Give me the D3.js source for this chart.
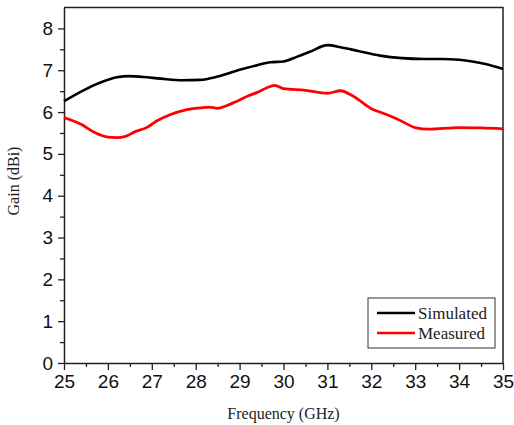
<!DOCTYPE html>
<html>
<head>
<meta charset="utf-8">
<script src="https://cdn.jsdelivr.net/npm/d3@7"></script>
<style>
  body { margin: 0; background: #fff; }
  svg { display: block; }
</style>
</head>
<body>
<script>
const freqSim  = [25.0, 25.5, 26.0, 26.2, 26.5, 26.8, 27.2, 27.7, 28.1, 28.5, 29.0, 29.4, 29.7, 30.0, 30.3, 30.6, 31.0, 31.3, 31.7, 32.2, 32.7, 33.2, 33.6, 34.0, 34.3, 34.6, 35.0];
const gainSim  = [6.26, 6.55, 6.77, 6.83, 6.86, 6.84, 6.80, 6.76, 6.77, 6.85, 7.01, 7.12, 7.19, 7.21, 7.32, 7.44, 7.60, 7.55, 7.46, 7.35, 7.29, 7.27, 7.27, 7.25, 7.21, 7.15, 7.03];
const freqMeas = [25.0, 25.4, 25.7, 26.0, 26.2, 26.4, 26.6, 26.9, 27.1, 27.4, 27.8, 28.1, 28.3, 28.5, 28.7, 28.9, 29.2, 29.4, 29.6, 29.8, 30.0, 30.5, 31.0, 31.3, 31.6, 32.0, 32.3, 32.6, 33.0, 33.3, 34.0, 34.5, 35.0];
const gainMeas = [5.87, 5.70, 5.51, 5.40, 5.39, 5.42, 5.52, 5.64, 5.78, 5.93, 6.06, 6.10, 6.12, 6.09, 6.15, 6.24, 6.39, 6.47, 6.57, 6.64, 6.56, 6.52, 6.45, 6.51, 6.37, 6.08, 5.96, 5.83, 5.63, 5.59, 5.63, 5.62, 5.60];

const xTicks = [25, 26, 27, 28, 29, 30, 31, 32, 33, 34, 35];
const yTicks = [0, 1, 2, 3, 4, 5, 6, 7, 8];
const seriesNames = ["Simulated", "Measured"];
const seriesColors = ["#000000", "#ff0000"];

const width = 514;
const height = 425;
const margin = { top: 7.5, right: 11, bottom: 62, left: 64 };

const svg = d3.select("body").append("svg")
  .attr("width", width)
  .attr("height", height);

const x = d3.scaleLinear().domain([25, 35]).range([margin.left, width - margin.right]);
const y = d3.scaleLinear().domain([0, 8.5]).range([height - margin.bottom, margin.top]);

// minor ticks first
const xMinor = d3.range(25.5, 35, 1);
const yMinor = d3.range(0.5, 8.5, 1);

svg.append("g")
  .attr("transform", `translate(0, ${height - margin.bottom})`)
  .call(d3.axisBottom(x).tickValues(xMinor).tickSize(4).tickFormat(""))
  .call(g => g.select(".domain").remove())
  .call(g => g.selectAll("line").attr("stroke", "#222").attr("stroke-width", 1.3));

svg.append("g")
  .attr("transform", `translate(${margin.left}, 0)`)
  .call(d3.axisLeft(y).tickValues(yMinor).tickSize(4).tickFormat(""))
  .call(g => g.select(".domain").remove())
  .call(g => g.selectAll("line").attr("stroke", "#222").attr("stroke-width", 1.3));

// major axes
svg.append("g")
  .attr("id", "x-axis")
  .attr("transform", `translate(0, ${height - margin.bottom})`)
  .call(d3.axisBottom(x).tickValues(xTicks).tickSize(7).tickPadding(5).tickSizeOuter(0).tickFormat(d3.format("d")))
  .call(g => g.select(".domain").attr("stroke", "#222").attr("stroke-width", 1.5))
  .call(g => g.selectAll("line").attr("stroke", "#222").attr("stroke-width", 1.3))
  .call(g => g.selectAll("text")
    .attr("font-family", "'Liberation Sans', Arial, sans-serif")
    .attr("font-size", 19)
    .attr("fill", "#111"));

svg.append("g")
  .attr("id", "y-axis")
  .attr("transform", `translate(${margin.left}, 0)`)
  .call(d3.axisLeft(y).tickValues(yTicks).tickSize(6).tickPadding(5).tickSizeOuter(0).tickFormat(d3.format("d")))
  .call(g => g.select(".domain").attr("stroke", "#222").attr("stroke-width", 1.5))
  .call(g => g.selectAll("line").attr("stroke", "#222").attr("stroke-width", 1.3))
  .call(g => g.selectAll("text")
    .attr("font-family", "'Liberation Sans', Arial, sans-serif")
    .attr("font-size", 19)
    .attr("fill", "#111"));

// top and right frame
svg.append("path")
  .attr("d", `M${x(25)},${y(8.5)}H${x(35)}V${y(0)}`)
  .attr("fill", "none")
  .attr("stroke", "#222")
  .attr("stroke-width", 1.5);

const line = d3.line()
  .x(d => x(d[0]))
  .y(d => y(d[1]))
  .curve(d3.curveMonotoneX);

const simData = freqSim.map((f, i) => [f, gainSim[i]]);
const measData = freqMeas.map((f, i) => [f, gainMeas[i]]);

svg.append("path")
  .datum(simData)
  .attr("d", line)
  .attr("fill", "none")
  .attr("stroke", seriesColors[0])
  .attr("stroke-width", 2.6);

svg.append("path")
  .datum(measData)
  .attr("d", line)
  .attr("fill", "none")
  .attr("stroke", seriesColors[1])
  .attr("stroke-width", 2.8);

// axis titles
svg.append("text")
  .attr("x", (x(25) + x(35)) / 2)
  .attr("y", 419)
  .attr("text-anchor", "middle")
  .attr("font-family", "'Liberation Serif', 'Times New Roman', serif")
  .attr("font-size", 16)
  .attr("fill", "#222")
  .text("Frequency (GHz)");

svg.append("text")
  .attr("transform", "translate(19, 181) rotate(-90)")
  .attr("text-anchor", "middle")
  .attr("font-family", "'Liberation Serif', 'Times New Roman', serif")
  .attr("font-size", 16)
  .attr("fill", "#222")
  .text("Gain (dBi)");

// legend
const legend = svg.append("g");
legend.append("rect")
  .attr("x", 368)
  .attr("y", 298)
  .attr("width", 127)
  .attr("height", 50)
  .attr("fill", "#fff")
  .attr("stroke", "#333")
  .attr("stroke-width", 1);

seriesNames.forEach((name, i) => {
  const ly = 313 + i * 20;
  legend.append("line")
    .attr("x1", 377).attr("x2", 415)
    .attr("y1", ly).attr("y2", ly)
    .attr("stroke", seriesColors[i])
    .attr("stroke-width", 2.6);
  legend.append("text")
    .attr("x", 418)
    .attr("y", ly)
    .attr("dy", "0.35em")
    .attr("font-family", "'Liberation Serif', 'Times New Roman', serif")
    .attr("font-size", 17)
    .attr("fill", "#222")
    .text(name);
});
</script>
</body>
</html>
